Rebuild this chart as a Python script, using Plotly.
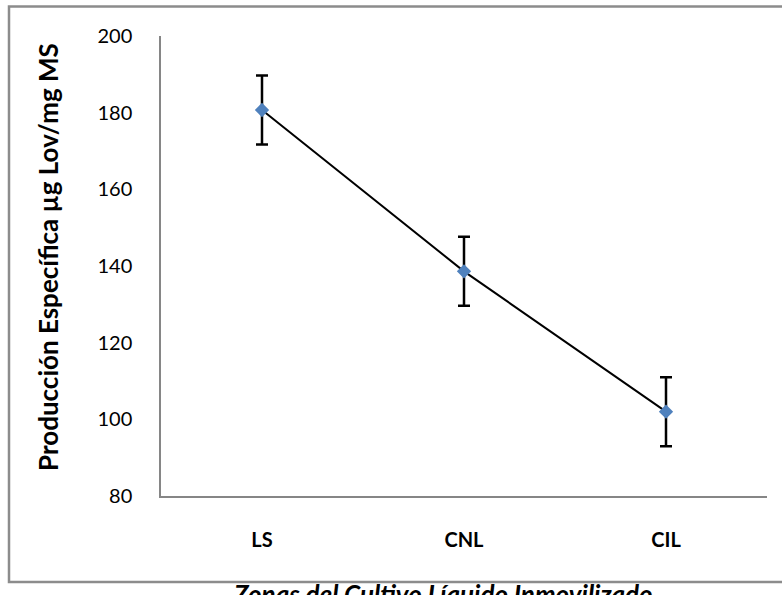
import plotly.graph_objects as go

# Zonas del cultivo y producción específica (µg Lov / mg MS)
zonas = ["LS", "CNL", "CIL"]
produccion = [180.7, 138.6, 102.0]
error = [9.0, 9.0, 9.0]
y_ticks = [80, 100, 120, 140, 160, 180, 200]

W, H = 782, 595
L, R, T, B = 161, 15, 36, 99
pw, ph = W - L - R, H - T - B


def px_x(x):
    return (x - L) / pw


def px_y(y):
    return (H - B - y) / ph


font_fam = "Lato, 'Open Sans', sans-serif"

fig = go.Figure()
fig.add_trace(go.Scatter(
    x=zonas, y=produccion,
    mode="lines+markers",
    line=dict(color="black", width=2),
    marker=dict(symbol="diamond", size=11, color="#4F81BD"),
    error_y=dict(type="data", array=error, visible=True,
                 color="black", thickness=2.5, width=6),
    showlegend=False,
))

fig.update_layout(
    width=W, height=H,
    margin=dict(l=L, r=R, t=T, b=B, pad=0),
    paper_bgcolor="white", plot_bgcolor="white",
    font=dict(family=font_fam, color="black"),
    xaxis=dict(
        type="category", range=[-0.5, 2.5],
        showline=True, linecolor="#868686", linewidth=1.5,
        showgrid=False, zeroline=False, ticks="",
        tickfont=dict(size=20, family=font_fam, weight="bold"),
        ticklabelstandoff=25,
    ),
    yaxis=dict(
        range=[80, 200], tickvals=y_ticks,
        showline=True, linecolor="#868686", linewidth=1.5,
        showgrid=False, zeroline=False, ticks="",
        tickfont=dict(size=20, family=font_fam),
        ticklabelstandoff=23,
    ),
    shapes=[dict(
        type="rect", xref="paper", yref="paper",
        x0=px_x(9), x1=px_x(790), y0=px_y(582), y1=px_y(6.5),
        line=dict(color="#8c8c8c", width=2.5), fillcolor="rgba(0,0,0,0)",
        layer="below",
    )],
    annotations=[
        dict(text="Producción Específica µg Lov/mg MS",
             xref="paper", yref="paper", x=px_x(48), y=px_y(257),
             xanchor="center", yanchor="middle",
             textangle=-90, showarrow=False,
             font=dict(size=26, family=font_fam, weight="bold")),
        dict(text="<b><i>Zonas del Cultivo Líquido Inmovilizado</i></b>",
             xref="paper", yref="paper", x=px_x(443), y=px_y(576),
             xanchor="center", yanchor="top", showarrow=False,
             font=dict(size=26, family=font_fam)),
    ],
)

fig.write_html("out.html")
